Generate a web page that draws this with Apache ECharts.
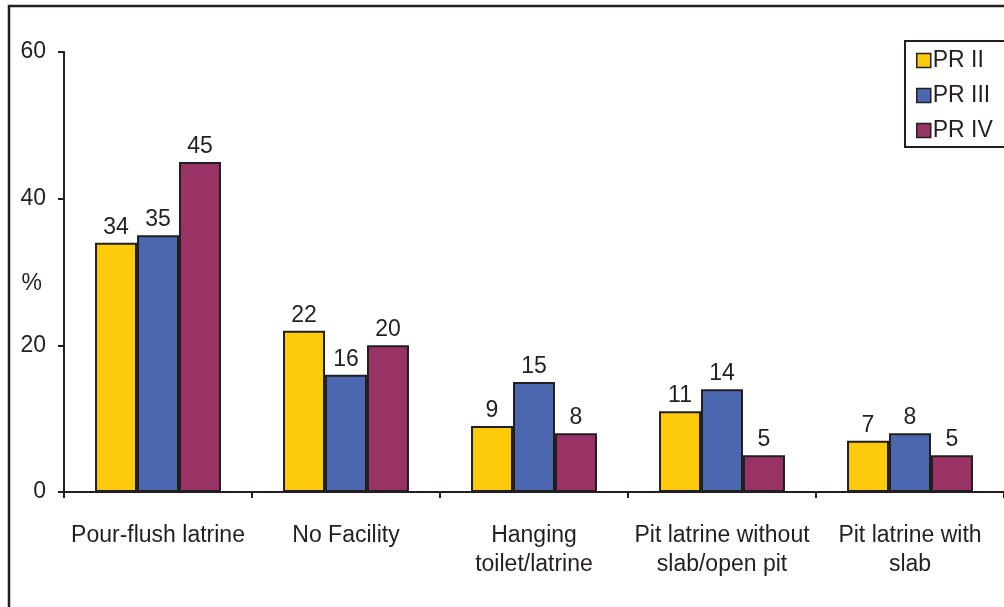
<!DOCTYPE html>
<html>
<head>
<meta charset="utf-8">
<script src="https://cdn.jsdelivr.net/npm/echarts@6/dist/echarts.min.js"></script>
<style>
html,body{margin:0;padding:0;background:#fff;}
#chart{width:1004px;height:607px;}
</style>
</head>
<body>
<div id="chart"></div>
<script>
var categories = ['Pour-flush latrine', 'No Facility', 'Hanging\ntoilet/latrine', 'Pit latrine without\nslab/open pit', 'Pit latrine with\nslab'];
var seriesNames = ['PR II', 'PR III', 'PR IV'];
var prII = [34, 22, 9, 11, 7];
var prIII = [35, 16, 15, 14, 8];
var prIV = [45, 20, 8, 5, 5];
var yTicks = [0, 20, 40, 60];
var colors = ['#FDCB0A', '#4A67B0', '#993366'];

var ink = '#231f20';
var font = 'Liberation Sans';
var fs = 23;
var chart = echarts.init(document.getElementById('chart'));

function mk(name, data, color) {
  return {
    name: name, type: 'bar', data: data,
    barGap: '0%', barCategoryGap: '33%',
    itemStyle: {color: color, borderColor: ink, borderWidth: 2},
    label: {show: true, position: 'top', distance: 4, color: ink, fontSize: fs, fontFamily: font},
    animation: false
  };
}

chart.setOption({
  animation: false,
  textStyle: {fontFamily: font},
  graphic: [
    {type: 'rect', shape: {x: 9, y: 6, width: 1100, height: 700}, style: {fill: 'none', stroke: ink, lineWidth: 2.5}, z: 100},
    {type: 'rect', shape: {x: 905, y: 41, width: 110, height: 106}, style: {fill: '#fff', stroke: ink, lineWidth: 2}, z: 1}
  ],
  legend: {
    orient: 'vertical', left: 911, top: 44, itemWidth: 14, itemHeight: 14, itemGap: 12,
    icon: 'rect',
    textStyle: {fontSize: fs, color: ink, fontFamily: font, padding: [0, 0, 0, -3]},
    itemStyle: {borderColor: ink, borderWidth: 1.5},
    data: seriesNames, z: 5
  },
  grid: {left: 64, top: 52, right: 0, bottom: 115, containLabel: false, outerBoundsMode: 'none'},
  xAxis: {
    type: 'category', data: categories,
    axisLine: {lineStyle: {color: ink, width: 2}},
    axisTick: {show: true, length: 6, lineStyle: {color: ink, width: 2}},
    axisLabel: {color: ink, fontSize: fs, fontFamily: font, margin: 29, lineHeight: 29, interval: 0}
  },
  yAxis: {
    type: 'value', min: yTicks[0], max: yTicks[yTicks.length - 1], interval: 20,
    name: '%', nameLocation: 'middle', nameRotate: 0, nameGap: 22, nameMoveOverlap: false,
    nameTextStyle: {color: ink, fontSize: fs, fontFamily: font, verticalAlign: 'top'},
    axisLine: {show: true, lineStyle: {color: ink, width: 2}},
    axisTick: {show: true, length: 6, lineStyle: {color: ink, width: 2}},
    axisLabel: {color: ink, fontSize: fs, fontFamily: font, margin: 18},
    splitLine: {show: false}
  },
  series: [mk(seriesNames[0], prII, colors[0]), mk(seriesNames[1], prIII, colors[1]), mk(seriesNames[2], prIV, colors[2])]
});
</script>
</body>
</html>
